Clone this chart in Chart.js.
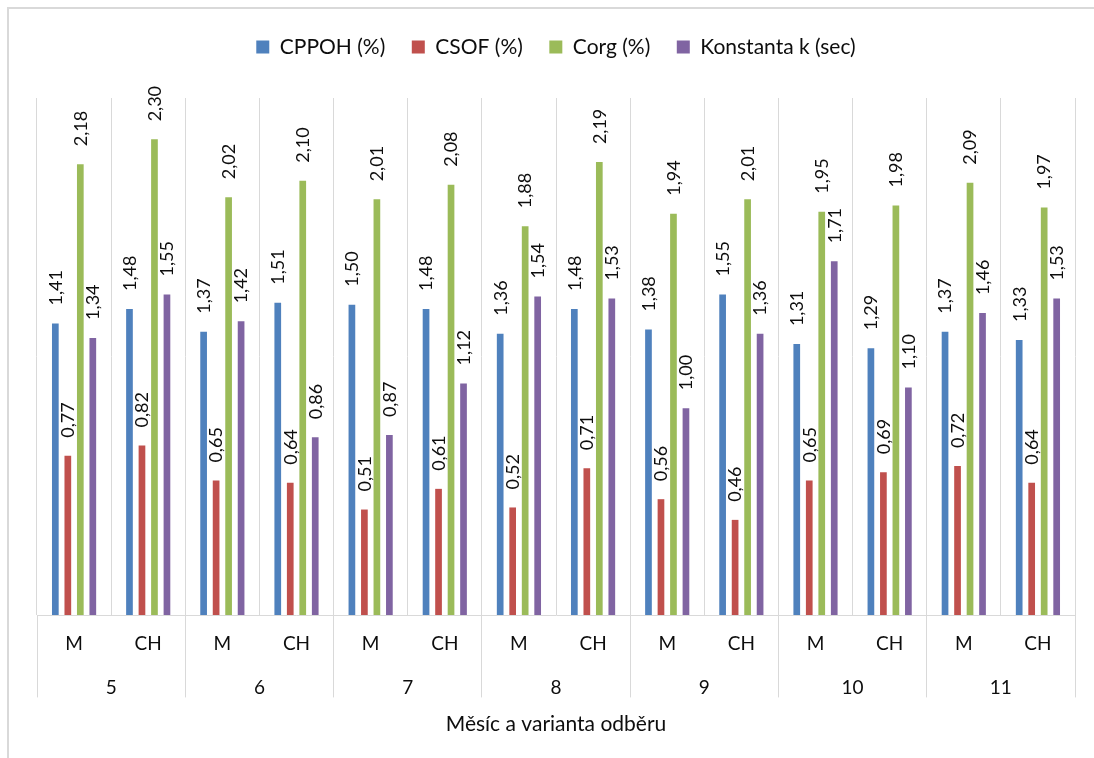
<!DOCTYPE html>
<html lang="cs">
<head>
<meta charset="utf-8">
<title>Měsíc a varianta odběru</title>
<script src="https://cdn.jsdelivr.net/npm/chart.js@4/dist/chart.umd.min.js"></script>
<style>
  html, body { margin: 0; padding: 0; background: #ffffff; }
  #wrap { position: relative; width: 1094px; height: 758px; overflow: hidden; }
  #frame {
    position: absolute; left: 7px; top: 7px; width: 1200px; height: 900px;
    border-left: 2px solid #d9d9d9; border-top: 2px solid #d9d9d9;
  }
  #chart { position: absolute; left: 0; top: 0; }
</style>
</head>
<body>
<div id="wrap">
  <div id="frame"></div>
  <canvas id="chart" width="1094" height="758"></canvas>
</div>
<script>
// Sampling months and sampling variants
const months = ['5', '6', '7', '8', '9', '10', '11'];
const variants = ['M', 'CH'];
const categoryLabels = months.flatMap(() => variants);

// Measured values per month/variant (M, CH for each month)
const cppoh = [1.41, 1.48, 1.37, 1.51, 1.50, 1.48, 1.36, 1.48, 1.38, 1.55, 1.31, 1.29, 1.37, 1.33];
const csof  = [0.77, 0.82, 0.65, 0.64, 0.51, 0.61, 0.52, 0.71, 0.56, 0.46, 0.65, 0.69, 0.72, 0.64];
const corg  = [2.18, 2.30, 2.02, 2.10, 2.01, 2.08, 1.88, 2.19, 1.94, 2.01, 1.95, 1.98, 2.09, 1.97];
const konstK = [1.34, 1.55, 1.42, 0.86, 0.87, 1.12, 1.54, 1.53, 1.00, 1.36, 1.71, 1.10, 1.46, 1.53];

const seriesNames = ['CPPOH (%)', 'CSOF (%)', 'Corg (%)', 'Konstanta k (sec)'];
const seriesColors = ['#4F81BD', '#C0504D', '#9BBB59', '#8064A2'];
const seriesValues = [cppoh, csof, corg, konstK];

const FONT = 'Lato';
const GRID = '#d9d9d9';
const TEXT = '#0d0d0d';
const NONE = 'rgba(0,0,0,0)';

const alignPx = (p) => Math.round(p - 0.5) + 0.5;

// Vertical value labels written above each bar, with a decimal comma
const barValueLabels = {
  id: 'barValueLabels',
  afterDatasetsDraw(chart) {
    const ctx = chart.ctx;
    ctx.save();
    ctx.font = `18px ${FONT}`;
    ctx.fillStyle = TEXT;
    ctx.textAlign = 'left';
    ctx.textBaseline = 'middle';
    chart.data.datasets.forEach((ds, di) => {
      const meta = chart.getDatasetMeta(di);
      meta.data.forEach((bar, i) => {
        const text = ds.data[i].toFixed(2).replace('.', ',');
        ctx.save();
        ctx.translate(bar.x + 0.5, bar.y - 18);
        ctx.rotate(-Math.PI / 2);
        ctx.fillText(text, 0, 0);
        ctx.restore();
      });
    });
    ctx.restore();
  }
};

// Month separators running through both label rows of the category axis
const monthSeparators = {
  id: 'monthSeparators',
  afterDraw(chart) {
    const x = chart.scales.x;
    const x2 = chart.scales.x2;
    const ctx = chart.ctx;
    ctx.save();
    ctx.strokeStyle = GRID;
    ctx.lineWidth = 1;
    for (let b = 0; b <= categoryLabels.length; b += variants.length) {
      const px = alignPx(x.getPixelForValue(b - 0.5));
      ctx.beginPath();
      ctx.moveTo(px, chart.chartArea.bottom);
      ctx.lineTo(px, x2.bottom - 2);
      ctx.stroke();
    }
    ctx.restore();
  }
};

new Chart(document.getElementById('chart'), {
  type: 'bar',
  data: {
    labels: categoryLabels,
    datasets: seriesValues.map((values, k) => ({
      label: seriesNames[k],
      data: values,
      backgroundColor: seriesColors[k],
      borderWidth: 0,
      categoryPercentage: 0.674,
      barPercentage: 0.536
    }))
  },
  options: {
    responsive: false,
    animation: false,
    devicePixelRatio: 1,
    layout: { padding: { top: 10, left: 37, right: 19, bottom: 0 } },
    scales: {
      y: { display: false, min: 0, max: 2.5 },
      x: {
        offset: true,
        grid: {
          offset: true,
          color: GRID,
          lineWidth: 1,
          drawTicks: true,
          tickLength: 17.6,
          tickColor: NONE
        },
        border: { display: true, color: GRID, width: 1 },
        ticks: {
          autoSkip: false, maxRotation: 0, minRotation: 0,
          padding: 0,
          color: TEXT,
          font: { family: FONT, size: 19 }
        }
      },
      x2: {
        type: 'category',
        position: 'bottom',
        labels: months,
        offset: true,
        grid: {
          offset: true,
          drawOnChartArea: false,
          drawTicks: true,
          tickLength: 21.2,
          color: NONE,
          tickColor: NONE
        },
        border: { display: false },
        ticks: {
          autoSkip: false, maxRotation: 0, minRotation: 0,
          padding: 0,
          color: TEXT,
          font: { family: FONT, size: 19 }
        }
      }
    },
    plugins: {
      legend: {
        position: 'top',
        labels: {
          boxWidth: 13,
          boxHeight: 13,
          padding: 26.5,
          color: TEXT,
          font: { family: FONT, size: 21 }
        }
      },
      subtitle: {
        display: true,
        text: '',
        position: 'top',
        weight: 500,
        font: { size: 10, lineHeight: 1 },
        padding: { top: 20.5, bottom: 0 }
      },
      title: {
        display: true,
        position: 'bottom',
        text: 'Měsíc a varianta odběru',
        color: TEXT,
        font: { family: FONT, size: 21, weight: 'normal' },
        padding: { top: 12, bottom: 21.4 }
      },
      tooltip: { enabled: false }
    }
  },
  plugins: [barValueLabels, monthSeparators]
});
</script>
</body>
</html>
